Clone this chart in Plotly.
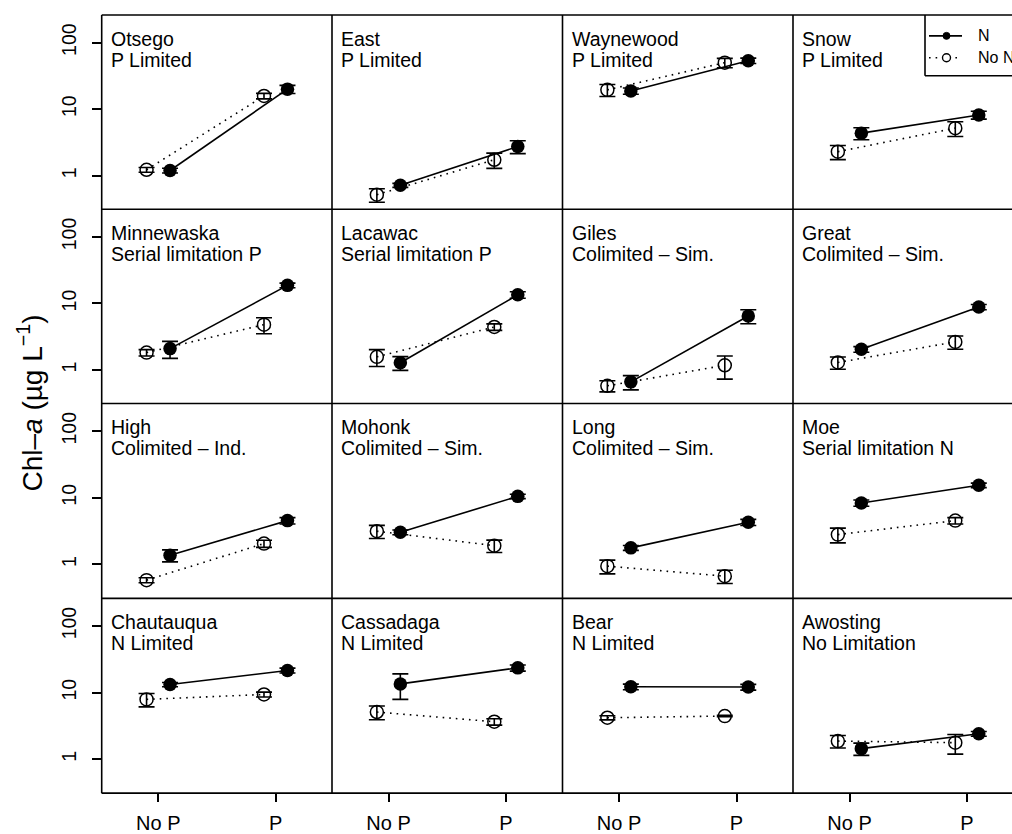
import plotly.graph_objects as go

# ---------------- data ----------------
lakes = ["Otsego", "East", "Waynewood", "Snow",
         "Minnewaska", "Lacawac", "Giles", "Great",
         "High", "Mohonk", "Long", "Moe",
         "Chautauqua", "Cassadaga", "Bear", "Awosting"]
status = ["P Limited", "P Limited", "P Limited", "P Limited",
          "Serial limitation P", "Serial limitation P", "Colimited – Sim.", "Colimited – Sim.",
          "Colimited – Ind.", "Colimited – Sim.", "Colimited – Sim.", "Serial limitation N",
          "N Limited", "N Limited", "N Limited", "No Limitation"]
p_levels = ["No P", "P"]

# N added (filled circles, solid line)
n_noP = [1.2, 0.72, 18.8, 4.37, 2.1, 1.29, 0.665, 2.05, 1.37, 3.04, 1.77, 8.36, 13.2, 13.5, 12.2, 1.44]
n_noP_se = [0.1, 0.05, 2.0, 0.9, 0.6, 0.3, 0.16, 0.2, 0.28, 0.25, 0.15, 0.9, 1.0, 5.6, 1.2, 0.3]
n_P = [20.0, 2.75, 53.5, 8.2, 18.7, 13.5, 6.5, 8.86, 4.54, 10.5, 4.29, 15.4, 21.5, 23.5, 12.1, 2.41]
n_P_se = [2.8, 0.6, 5.0, 1.1, 1.5, 1.5, 1.55, 0.8, 0.5, 0.8, 0.45, 1.2, 1.8, 2.5, 1.2, 0.2]
# No N added (open circles, dotted line)
noN_noP = [1.23, 0.52, 19.5, 2.3, 1.83, 1.58, 0.58, 1.3, 0.58, 3.15, 0.94, 2.8, 7.9, 5.1, 4.19, 1.87]
noN_noP_se = [0.1, 0.12, 4.0, 0.55, 0.2, 0.45, 0.11, 0.27, 0.05, 0.7, 0.22, 0.7, 1.8, 1.2, 0.3, 0.4]
noN_P = [15.8, 1.74, 50.0, 5.19, 4.81, 4.44, 1.18, 2.65, 2.05, 1.91, 0.665, 4.54, 9.37, 3.65, 4.44, 1.77]
noN_P_se = [1.5, 0.45, 8.0, 1.3, 1.3, 0.5, 0.45, 0.6, 0.25, 0.4, 0.15, 0.5, 0.8, 0.4, 0.1, 0.58]

y_ticks = [1, 10, 100]
y_ticktext = ["1", "10", "100"]

# ---------------- layout geometry ----------------
W, H = 1012, 834
FONT = "Liberation Sans, Arial, Helvetica, sans-serif"
col_left = [101.7, 332.0, 562.5, 793.0]
panel_w = 230.4
row_top = [15.0, 210.0, 405.0, 600.5]
panel_h = 195.5
X_RANGE = [0.518, 2.48]
px_per_unit = panel_w / (X_RANGE[1] - X_RANGE[0])
Y_RANGE = [-0.51, 2.415]
OFF = 0.1
LW = 1.6

def px(x):
    return x / W

def py(y):
    return 1 - y / H

fig = go.Figure()
annotations = []
shapes = []

for i, lake in enumerate(lakes):
    r, c = divmod(i, 4)
    n = i + 1
    xname = "x" if n == 1 else f"x{n}"
    yname = "y" if n == 1 else f"y{n}"
    xa = "xaxis" if n == 1 else f"xaxis{n}"
    ya = "yaxis" if n == 1 else f"yaxis{n}"
    x0 = col_left[c]
    x1 = min(x0 + panel_w, W)
    xr = [X_RANGE[0], X_RANGE[0] + (x1 - x0) / px_per_unit]
    y0 = row_top[r]
    y1 = y0 + panel_h

    bottom = (r == 3)
    fig.layout[xa] = dict(
        domain=[px(x0), px(x1)], range=xr, anchor=yname,
        showline=False, showgrid=False, zeroline=False,
        tickvals=[1, 2], ticktext=p_levels,
        ticks="outside" if bottom else "", ticklen=8, tickwidth=LW, tickcolor="black",
        showticklabels=bottom,
        tickfont=dict(family=FONT, size=20, color="black"),
        ticklabelstandoff=4,
    )
    first = (c == 0)
    fig.layout[ya] = dict(
        domain=[py(y1), py(y0)], type="log", range=Y_RANGE, anchor=xname,
        showline=False, showgrid=False, zeroline=False,
        tickvals=y_ticks, ticktext=y_ticktext,
        ticks="outside" if first else "", ticklen=9, tickwidth=LW, tickcolor="black",
        showticklabels=first, tickangle=-90,
        tickfont=dict(family=FONT, size=19.5, color="black"),
        ticklabelstandoff=8,
    )

    # No N (open circles, dotted)
    fig.add_trace(go.Scatter(
        x=[1 - OFF, 2 - OFF], y=[noN_noP[i], noN_P[i]],
        xaxis=xname, yaxis=yname, mode="lines+markers",
        line=dict(color="black", width=1.6, dash="1.6px,5px"),
        marker=dict(symbol="circle-open", size=13, color="black", line=dict(width=1.5, color="black")),
        error_y=dict(type="data", array=[noN_noP_se[i], noN_P_se[i]], visible=True,
                     color="black", thickness=1.6, width=8),
        showlegend=False, hoverinfo="skip",
    ))
    # N (filled circles, solid)
    fig.add_trace(go.Scatter(
        x=[1 + OFF, 2 + OFF], y=[n_noP[i], n_P[i]],
        xaxis=xname, yaxis=yname, mode="lines+markers",
        line=dict(color="black", width=1.6),
        marker=dict(symbol="circle", size=13.5, color="black"),
        error_y=dict(type="data", array=[n_noP_se[i], n_P_se[i]], visible=True,
                     color="black", thickness=1.6, width=8),
        showlegend=False, hoverinfo="skip",
    ))

    annotations.append(dict(
        xref="paper", yref="paper", x=px(x0 + 7), y=py(y0 + 24),
        text=lake, showarrow=False, xanchor="left", yanchor="middle",
        font=dict(family=FONT, size=19.5, color="black"),
    ))
    annotations.append(dict(
        xref="paper", yref="paper", x=px(x0 + 7), y=py(y0 + 45),
        text=status[i], showarrow=False, xanchor="left", yanchor="middle",
        font=dict(family=FONT, size=19.5, color="black"),
    ))

# panel frame lines (shared borders drawn once)
grid_top, grid_bot = row_top[0], row_top[3] + panel_h
for yy in row_top + [grid_bot]:
    shapes.append(dict(type="line", xref="paper", yref="paper",
                       x0=px(col_left[0]), x1=1.0, y0=py(yy), y1=py(yy),
                       line=dict(color="black", width=LW)))
for xx in col_left:
    shapes.append(dict(type="line", xref="paper", yref="paper",
                       x0=px(xx), x1=px(xx), y0=py(grid_top), y1=py(grid_bot),
                       line=dict(color="black", width=LW)))

# y-axis title
annotations.append(dict(
    xref="paper", yref="paper", x=px(30), y=py(405),
    text="Chl–<i>a</i> (µg L<sup>−1</sup>)", showarrow=False, textangle=-90,
    xanchor="center", yanchor="middle",
    font=dict(family=FONT, size=28, color="black"),
))

# legend (drawn manually, top-right)
LX0, LY0, LY1 = 925, 15, 76
shapes.append(dict(type="line", xref="paper", yref="paper", x0=px(LX0), x1=px(LX0),
                   y0=py(LY0), y1=py(LY1), line=dict(color="black", width=LW)))
shapes.append(dict(type="line", xref="paper", yref="paper", x0=px(LX0), x1=1.0,
                   y0=py(LY1), y1=py(LY1), line=dict(color="black", width=LW)))
shapes.append(dict(type="line", xref="paper", yref="paper", x0=px(929), x1=px(962),
                   y0=py(36), y1=py(36), line=dict(color="black", width=1.6)))
shapes.append(dict(type="circle", xref="paper", yref="paper", x0=px(943), x1=px(950),
                   y0=py(32.5), y1=py(39.5), fillcolor="black", line=dict(color="black", width=1)))
shapes.append(dict(type="line", xref="paper", yref="paper", x0=px(929), x1=px(962),
                   y0=py(58), y1=py(58), line=dict(color="black", width=1.6, dash="1.6px,5px")))
shapes.append(dict(type="circle", xref="paper", yref="paper", x0=px(942.5), x1=px(950.5),
                   y0=py(54), y1=py(62), fillcolor="white", line=dict(color="black", width=1.4)))
annotations.append(dict(xref="paper", yref="paper", x=px(976), y=py(36), text="N",
                        showarrow=False, xanchor="left", yanchor="middle",
                        font=dict(family=FONT, size=16, color="black")))
annotations.append(dict(xref="paper", yref="paper", x=px(976), y=py(58), text="No N",
                        showarrow=False, xanchor="left", yanchor="middle",
                        font=dict(family=FONT, size=16, color="black")))

fig.update_layout(
    width=W, height=H, margin=dict(l=0, r=0, t=0, b=0),
    paper_bgcolor="white", plot_bgcolor="white",
    annotations=annotations, shapes=shapes, showlegend=False,
    font=dict(family=FONT, color="black"),
)

fig.write_html(
    "out.html",
    config={"displayModeBar": False},
    post_script="document.body.style.margin='0';document.body.style.overflow='hidden';",
)
